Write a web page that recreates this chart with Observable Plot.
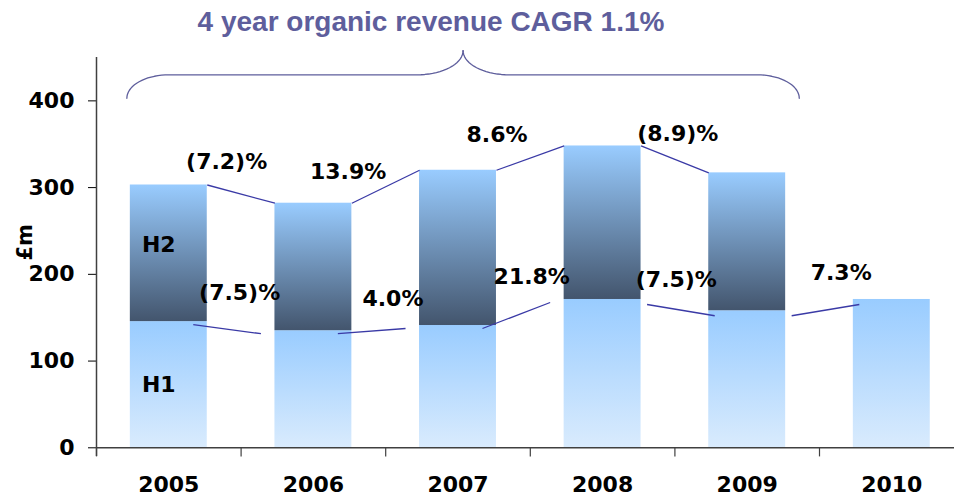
<!DOCTYPE html>
<html>
<head>
<meta charset="utf-8">
<script src="https://cdn.jsdelivr.net/npm/d3@7"></script>
<script src="https://cdn.jsdelivr.net/npm/@observablehq/plot@0.6"></script>
<style>
  body { margin: 0; background: #fff; }
  #wrap { position: relative; width: 954px; height: 498px; }
  #wrap svg { position: absolute; left: 0; top: 0; }
  #title {
    position: absolute; left: 431px; top: 8px; transform: translateX(-50%);
    font: bold 28px "Liberation Sans", Arial, sans-serif; line-height: 28px;
    color: #5e5e9c; white-space: nowrap; z-index: 2;
  }
</style>
</head>
<body>
<div id="wrap">
  <div id="title">4 year organic revenue CAGR 1.1%</div>
</div>
<script>
// ---- data ----
const years = ["2005", "2006", "2007", "2008", "2009", "2010"];
const h1 = [145.5, 135, 141, 171, 158, 171];          // first half revenue, £m
const fullYear = [303, 282, 320, 348, 317, null];    // full year revenue, £m
const yTicks = [0, 100, 200, 300, 400];
const fyGrowth = ["(7.2)%", "13.9%", "8.6%", "(8.9)%"];
const h1Growth = ["(7.5)%", "4.0%", "21.8%", "(7.5)%", "7.3%"];
const title = "4 year organic revenue CAGR 1.1%";

// annotation anchors (data units: year index, £m)
const fyLabelAt = [[0.40, 329], [1.24, 318], [2.27, 361], [3.52, 362]];
const h1LabelAt = [[0.49, 179], [1.55, 172], [2.51, 197], [3.51, 193], [4.65, 202]];
const braceSpan = [-0.29, 4.36];
const braceLevels = {end: 403, mid: 430, peak: 458};

// ---- derived ----
const hw = 0.266; // half bar width in year units
const idx = years.map((d, i) => i);
const h1Rows = idx.map(i => ({i, lo: 0, hi: h1[i]}));
const h2Rows = idx.filter(i => fullYear[i] != null).map(i => ({i, lo: h1[i], hi: fullYear[i]}));
const fyLinks = d3.range(fyGrowth.length);
const h1Links = d3.range(h1Growth.length);
const fyLabels = fyGrowth.map((t, k) => ({t, x: fyLabelAt[k][0], y: fyLabelAt[k][1]}));
const h1Labels = h1Growth.map((t, k) => ({t, x: h1LabelAt[k][0], y: h1LabelAt[k][1]}));

function bracePoints([xa, xb], {end, mid, peak}, r1 = 0.29, r2 = 0.32, n = 18) {
  const xm = (xa + xb) / 2;
  const left = [];
  for (let k = 0; k <= n; k++) {
    const t = (k / n) * Math.PI / 2;
    left.push({x: xa + r1 * (1 - Math.cos(t)), y: end + (mid - end) * Math.sin(t)});
  }
  for (let k = 0; k <= n; k++) {
    const t = (k / n) * Math.PI / 2;
    left.push({x: xm - r2 + r2 * Math.sin(t), y: mid + (peak - mid) * (1 - Math.cos(t))});
  }
  const right = left.map(p => ({x: xa + xb - p.x, y: p.y}));
  return [...left.map(p => ({...p, side: "L"})), ...right.map(p => ({...p, side: "R"}))];
}
const brace = bracePoints(braceSpan, braceLevels);

const font = "DejaVu Sans, Verdana, sans-serif";
const linkColor = "#3a3aa6";

const plot = Plot.plot({
  width: 954,
  height: 498,
  marginLeft: 96,
  marginRight: 0,
  marginTop: 57,
  marginBottom: 42,
  style: {fontFamily: font, fontWeight: "bold", fontSize: "22px", color: "#000", background: "transparent", overflow: "visible"},
  x: {
    type: "linear",
    domain: [-0.5, years.length - 0.5],
    range: [96, 963.6],
    ticks: idx,
    tickFormat: i => years[i],
    tickSize: 0,
    tickPadding: 20,
    label: null
  },
  y: {
    domain: [0, 450],
    range: [447.3, 57],
    ticks: yTicks,
    tickSize: 8,
    tickPadding: 14,
    label: null
  },
  marks: [
    Plot.rect(h1Rows, {x1: d => d.i - hw, x2: d => d.i + hw, y1: "lo", y2: "hi", fill: "url(#gH1)"}),
    Plot.rect(h2Rows, {x1: d => d.i - hw, x2: d => d.i + hw, y1: "lo", y2: "hi", fill: "url(#gH2)"}),
    // axis lines and boundary ticks
    Plot.ruleY([0], {stroke: "#404040", strokeWidth: 1.5}),
    Plot.ruleX([-0.5], {stroke: "#404040", strokeWidth: 1.5}),
    Plot.ruleX(d3.range(years.length + 1).map(k => k - 0.5), {x: d => d, y1: 0, y2: -10.5, stroke: "#404040", strokeWidth: 1.2}),
    // full-year growth connectors (bar top corners)
    Plot.link(fyLinks, {
      x1: i => i + hw, y1: i => fullYear[i],
      x2: i => i + 1 - hw, y2: i => fullYear[i + 1],
      stroke: linkColor, strokeWidth: 1.3
    }),
    // first-half growth connectors
    Plot.link(h1Links.slice(0, 3), {
      x1: i => i + hw, y1: i => h1[i],
      x2: i => i + 1 - hw, y2: i => h1[i + 1],
      dx: -14, dy: 3, stroke: linkColor, strokeWidth: 1.3
    }),
    Plot.link(h1Links.slice(3), {
      x1: i => i + hw, y1: i => h1[i],
      x2: i => i + 1 - hw, y2: i => h1[i + 1],
      dx: 6, dy: 5, stroke: linkColor, strokeWidth: 1.3
    }),
    Plot.text(fyLabels, {x: "x", y: "y", text: "t", fontSize: 22, fontWeight: "bold", fill: "#000"}),
    Plot.text(h1Labels, {x: "x", y: "y", text: "t", fontSize: 22, fontWeight: "bold", fill: "#000"}),
    // segment labels on first bar
    Plot.text(["H2"], {x: () => 0, y: () => (h1[0] + fullYear[0]) / 2, text: d => d, dx: -10, dy: -8, fontSize: 22, fontWeight: "bold", fill: "#000"}),
    Plot.text(["H1"], {x: () => 0, y: () => h1[0] / 2, text: d => d, dx: -10, fontSize: 22, fontWeight: "bold", fill: "#000"}),
    // y unit label
    Plot.text(["£m"], {x: () => -0.5, y: () => 237, text: d => d, dx: -71, rotate: -90, fontSize: 21, fontWeight: "bold", fill: "#000"}),
    // brace over 2005-2009
    Plot.line(brace, {x: "x", y: "y", z: "side", stroke: "#5e5e9c", strokeWidth: 1.3, curve: "linear"})
  ]
});

const svg = d3.select(plot);
const defs = svg.insert("defs", ":first-child");
const g1 = defs.append("linearGradient").attr("id", "gH1").attr("x1", 0).attr("y1", 1).attr("x2", 0).attr("y2", 0);
g1.append("stop").attr("offset", "0%").attr("stop-color", "#d9ebfd");
g1.append("stop").attr("offset", "100%").attr("stop-color", "#99ccff");
const g2 = defs.append("linearGradient").attr("id", "gH2").attr("x1", 0).attr("y1", 1).attr("x2", 0).attr("y2", 0);
g2.append("stop").attr("offset", "0%").attr("stop-color", "#43556d");
g2.append("stop").attr("offset", "100%").attr("stop-color", "#99ccff");

document.getElementById("wrap").appendChild(plot);
document.getElementById("title").textContent = title;
</script>
</body>
</html>
